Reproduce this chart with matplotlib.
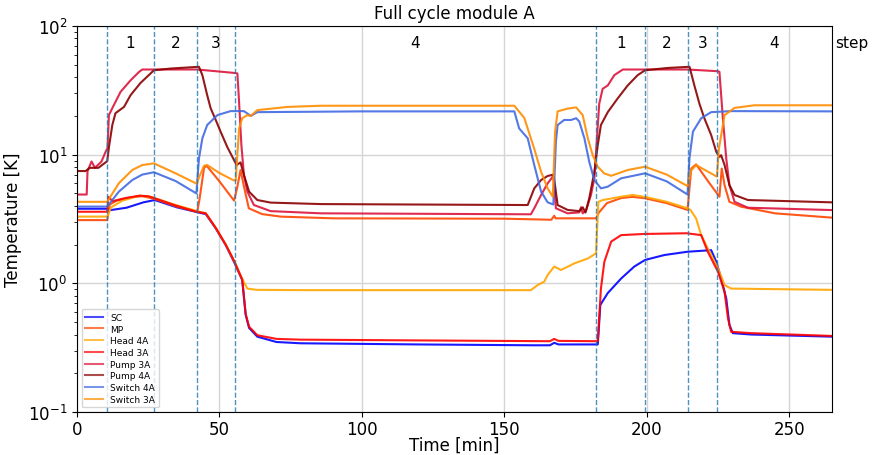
import matplotlib
matplotlib.use("Agg")
import matplotlib.pyplot as plt

sc_t = [0, 10.6, 11.5, 17.4, 23.3, 27.3, 35, 41.6, 45.2, 48.7, 52.2, 55.1, 58, 59.2, 60.4, 63.3, 70, 78.5,
        120, 160, 166, 167.5, 169, 182.8, 183.7, 186.3, 191, 195.6, 199.4, 206.2, 214.3, 222.6, 224.4,
        226.1, 227.9, 229, 230.2, 236.7, 265]
sc_T = [3.8, 3.8, 3.7, 3.87, 4.26, 4.44, 3.9, 3.6, 3.45, 2.67, 1.98, 1.47, 1.06, 0.57, 0.45, 0.385, 0.35, 0.342,
        0.335, 0.33, 0.33, 0.345, 0.335, 0.335, 0.68, 0.84, 1.09, 1.35, 1.52, 1.66, 1.76, 1.81, 1.47,
        1.09, 0.76, 0.475, 0.41, 0.40, 0.385]

mp_t = [0, 10.6, 11.5, 14, 20, 23, 27, 35, 42.2, 43, 44.6, 45.5, 50, 55.1, 56.2, 57.4, 58.5, 60.3, 65, 71.5,
        90, 150, 166.5, 167.5, 168, 182.2, 183.2, 186, 191, 195, 199.4, 207, 214.3, 215.6, 217.3, 222,
        225.5, 226.3, 227.3, 229, 233.1, 245, 265]
mp_T = [3.1, 3.1, 4.1, 4.4, 4.7, 4.75, 4.55, 3.95, 3.6, 4.5, 7.9, 8.2, 6.2, 4.4, 5.5, 7.6, 5.8, 3.83, 3.45, 3.3,
        3.2, 3.18, 3.12, 3.35, 3.2, 3.2, 3.55, 4.2, 4.6, 4.7, 4.58, 4.2, 3.72, 7.8, 8.4, 6.0,
        4.71, 7.8, 5.8, 4.3, 3.94, 3.5, 3.24]

h4_t = [0, 10.6, 12, 16, 22, 26, 34, 42, 45.2, 48.7, 52.2, 55.1, 58, 59.8, 63, 80, 159.3, 161.7, 164, 165.2,
        167.5, 169.9, 174.6, 179.3, 182.2, 183, 184.5, 191, 195, 199.4, 207, 214.3, 215.3, 217.3, 219.1,
        221.4, 225, 227.3, 229.6, 265]
h4_T = [3.3, 3.3, 3.9, 4.4, 4.8, 4.7, 4.1, 3.65, 3.5, 2.7, 2.0, 1.5, 1.08, 0.91, 0.89, 0.885, 0.885, 0.97, 1.03,
        1.16, 1.35, 1.27, 1.43, 1.56, 1.71, 4.3, 4.44, 4.71, 4.86, 4.7, 4.3, 3.83, 3.72, 3.2, 2.37,
        1.87, 1.31, 0.97, 0.91, 0.89]

h3_t = [0, 10.6, 11.0, 12.5, 17, 22, 25, 27, 35, 42, 45.2, 48.7, 52.2, 55.1, 58, 59.2, 60.4, 63.3, 70, 78.5,
        120, 166, 167.5, 169, 182.8, 183.9, 185.1, 187.5, 191, 199.2, 214, 219.1, 221.4, 225, 227.3,
        228.5, 229.6, 236.7, 265]
h3_T = [3.6, 3.6, 4.7, 4.35, 4.6, 4.8, 4.75, 4.6, 4.0, 3.6, 3.5, 2.7, 2.0, 1.5, 1.07, 0.58, 0.46, 0.395, 0.37,
        0.365, 0.36, 0.355, 0.37, 0.357, 0.355, 0.91, 1.47, 2.11, 2.37, 2.42, 2.45, 2.37, 1.76, 1.23, 0.86,
        0.535, 0.42, 0.41, 0.39]

p3_t = [0, 3.4, 3.7, 5.1, 6.3, 8.6, 10.1, 10.7, 11.2, 12.4, 15.3, 18.8, 21.7, 22.9, 42.2, 55.1, 56.3, 56.9,
        57.7, 58.6, 59.8, 62.1, 68, 85.6, 159.3, 160.5, 162.9, 165.2, 167.2, 168.1, 172.2, 176.3, 176.9,
        177.5, 178.7, 180.4, 181.6, 182.5, 183.3, 184.5, 186.3, 188.6, 191.6, 214.4, 225, 225.5, 226.7,
        227.9, 229, 230.8, 235.5, 265]
p3_T = [4.9, 4.9, 7.46, 8.85, 7.9, 8.85, 10.6, 11.2, 20.3, 23.0, 30.8, 37.8, 43.8, 45.9, 45.9, 43.2, 42.8, 25.5,
        11.9, 6.95, 5.16, 4.06, 3.64, 3.5, 3.44, 3.83, 4.86, 5.98, 6.85, 3.83, 3.5, 3.56, 3.9,
        3.5, 3.7, 4.86, 6.55, 13.4, 24.8, 32.5, 34.5, 41.5, 45.9, 45.9, 44.5, 44, 19.2,
        9.3, 5.8, 4.3, 3.87, 3.71]

p4_t = [0, 3, 4.5, 7.5, 10.6, 11.2, 12.4, 13.5, 16.5, 18.8, 22.3, 25.2, 27, 32.9, 42.8, 44, 45.7, 46.9, 48.7,
        50.4, 52.8, 55.1, 56, 57.4, 58.6, 60.4, 63.3, 68, 85.6, 158.2, 160.5, 162.9, 165.2, 167.3, 168.7,
        172.2, 176.3, 177.5, 178.5, 179.8, 181.6, 182.8, 183.9, 186.3, 189.8, 193.3, 196.8, 199.4, 207.4,
        215, 216.7, 218.5, 220.2, 222.6, 224.4, 225.5, 226.1, 227.3, 229, 230.8, 235.5, 265]
p4_T = [7.46, 7.46, 7.9, 7.9, 8.9, 11.4, 17.0, 21.0, 23.5, 29.0, 36.1, 41.5, 45.3, 46.7, 48.2, 41.5, 29.0, 23.0,
        18.6, 15.1, 11.4, 9.1, 8.3, 8.7, 6.95, 5.16, 4.44, 4.24, 4.13, 4.06, 5.47, 6.35, 6.83, 7.0, 4.06,
        3.72, 3.64, 3.9, 3.55, 4.58, 7.36, 11.9, 17.0, 21.4, 27.4, 34.5, 41.5, 45.3, 47.2,
        48.2, 34.5, 24.8, 19.2, 14.2, 10.5, 9.6, 9.9, 8.3, 5.8, 4.86, 4.44, 4.26]

s4_t = [0, 10.6, 14.7, 19.4, 22.9, 27, 34.6, 41.9, 42.8, 44, 45.7, 49.3, 53.9, 58.6, 61, 63.3, 100, 153.5,
        155.2, 158.2, 160.5, 162.9, 165.2, 167.2, 168.1, 168.7, 171, 173.4, 175.2, 176.3, 178.1, 179.8,
        181.6, 183.9, 186.3, 191, 199.4, 207, 214.3, 215, 216.2, 219.1, 222.6, 229.6, 265]
s4_T = [3.95, 3.95, 5.16, 6.35, 7.0, 7.3, 6.24, 5.0, 9.3, 13.4, 17.0, 20.3, 21.8, 21.8, 20.0, 21.4, 21.7, 21.7,
        16.0, 13.4, 8.3, 5.16, 4.26, 4.1, 12.6, 17.0, 18.6, 18.6, 19.2, 18.1, 13.4, 8.8,
        6.35, 5.47, 5.64, 6.55, 7.16, 6.2, 4.9, 9.5, 15.1, 19.2, 21.4, 21.8, 21.7]

s3_t = [0, 10.6, 14.7, 19.4, 22.9, 27, 34.6, 42.0, 43, 44.6, 45.7, 50, 55.1, 55.7, 56.9, 58, 59.8, 61, 63.3,
        73.9, 85.6, 153.5, 157, 160.5, 162.9, 165.2, 167, 167.8, 168.7, 172.2, 175.2, 177.5, 179.3, 181,
        182.8, 185.1, 187.5, 193.3, 199.4, 207, 214.3, 215.5, 217.3, 224.6, 225.3, 227.3, 230.8, 237.8, 265]
s3_T = [4.3, 4.3, 6.0, 7.6, 8.3, 8.56, 7.16, 5.95, 6.8, 8.2, 8.3, 7.2, 6.3, 6.3, 16.0, 19.2, 20.3, 20.0, 22.2,
        23.5, 24.0, 24.0, 19.3, 11.1, 7.36, 5.47, 4.71, 15.0, 21.7, 22.8, 23.3, 20.3, 13.4, 9.95,
        8.06, 7.14, 6.85, 7.6, 8.06, 7.0, 5.7, 7.5, 8.3, 6.75, 11.1, 20.3, 23.1, 24.2, 24.2]

# debut des etapes du cycle
etapes_t = [10.6, 27, 42, 55.3, 182.2, 199.5, 214.3, 224.6]
etapes_fin = 265
etapes_noms = ["1", "2", "3", "4", "1", "2", "3", "4"]

fig = plt.figure(figsize=(8.72, 4.56), dpi=100)
ax = fig.add_axes([0.0883, 0.0943, 0.8658, 0.8465])

ax.plot(sc_t, sc_T, color="blue", lw=1.5, alpha=0.9, label="SC")
ax.plot(mp_t, mp_T, color="orangered", lw=1.5, alpha=0.9, label="MP")
ax.plot(h4_t, h4_T, color="orange", lw=1.5, alpha=0.9, label="Head 4A")
ax.plot(h3_t, h3_T, color="red", lw=1.5, alpha=0.9, label="Head 3A")
ax.plot(p3_t, p3_T, color="crimson", lw=1.5, alpha=0.9, label="Pump 3A")
ax.plot(p4_t, p4_T, color="darkred", lw=1.5, alpha=0.9, label="Pump 4A")
ax.plot(s4_t, s4_T, color="royalblue", lw=1.5, alpha=0.9, label="Switch 4A")
ax.plot(s3_t, s3_T, color="darkorange", lw=1.5, alpha=0.9, label="Switch 3A")

for v in etapes_t:
    ax.axvline(v, color="tab:blue", ls="--", lw=1, alpha=0.8)

# numero de l'etape au milieu de chaque intervalle
bornes = etapes_t + [etapes_fin]
for i in range(len(etapes_noms)):
    ax.text((bornes[i] + bornes[i + 1]) / 2, 74, etapes_noms[i], ha="center", va="center", fontsize=11)
ax.text(272, 74, "step", ha="center", va="center", fontsize=11, clip_on=False)

ax.set_yscale("log")
ax.set_xlim(0, 265)
ax.set_ylim(0.1, 100)
ax.grid(True, which="major", color="#d5d5d5", lw=1)
ax.set_axisbelow(True)
ax.tick_params(labelsize=12)
ax.tick_params(axis="x", pad=2.5)
ax.set_xlabel("Time [min]", fontsize=12, labelpad=-2)
ax.set_ylabel("Temperature [K]", fontsize=12)
ax.set_title("Full cycle module A", fontsize=12, pad=6)
leg = ax.legend(loc="lower left", fontsize=6.5, labelspacing=0.3)
for h in leg.get_lines():
    h.set_alpha(0.7)

fig.savefig("out.png", dpi=100)
